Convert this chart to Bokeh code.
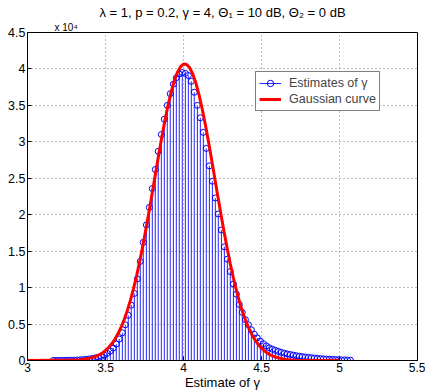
from bokeh.plotting import figure
from bokeh.models import (ColumnDataSource, Range1d, FixedTicker, Title,
                          Legend, LegendItem)
from bokeh.embed import file_html
from bokeh.resources import INLINE

# ---- data (counts in units of 1e4) ----
gamma_bins = [3.165, 3.184, 3.203, 3.223, 3.242, 3.261, 3.280, 3.300, 3.319, 3.338,
              3.357, 3.377, 3.396, 3.415, 3.434, 3.454, 3.473, 3.492, 3.511, 3.531,
              3.550, 3.569, 3.588, 3.608, 3.627, 3.646, 3.665, 3.685, 3.704, 3.723,
              3.742, 3.762, 3.781, 3.800, 3.819, 3.838, 3.858, 3.877, 3.896, 3.915,
              3.935, 3.954, 3.973, 3.992, 4.012, 4.031, 4.050, 4.069, 4.089, 4.108,
              4.127, 4.146, 4.166, 4.185, 4.204, 4.223, 4.243, 4.262, 4.281, 4.300,
              4.320, 4.339, 4.358, 4.377, 4.397, 4.416, 4.435, 4.454, 4.473, 4.493,
              4.512, 4.531, 4.550, 4.570, 4.589, 4.608, 4.627, 4.647, 4.666, 4.685,
              4.704, 4.724, 4.743, 4.762, 4.781, 4.801, 4.820, 4.839, 4.858, 4.878,
              4.897, 4.916, 4.935, 4.955, 4.974, 4.993, 5.012, 5.032, 5.051, 5.070]
estimate_counts = [0.001, 0.001, 0.001, 0.002, 0.002, 0.003, 0.004, 0.005, 0.007, 0.009,
                   0.012, 0.016, 0.021, 0.027, 0.035, 0.045, 0.058, 0.075, 0.098, 0.130,
                   0.170, 0.225, 0.295, 0.38, 0.49, 0.62, 0.76, 0.92, 1.12, 1.36,
                   1.62, 1.86, 2.10, 2.36, 2.62, 2.87, 3.10, 3.31, 3.50, 3.66,
                   3.79, 3.88, 3.93, 3.95, 3.94, 3.91, 3.83, 3.68, 3.50, 3.33,
                   3.13, 2.91, 2.67, 2.46, 2.23, 2.01, 1.79, 1.56, 1.39, 1.22,
                   1.05, 0.91, 0.77, 0.66, 0.56, 0.49, 0.42, 0.36, 0.31, 0.265,
                   0.23, 0.20, 0.175, 0.155, 0.14, 0.125, 0.112, 0.10, 0.09, 0.082,
                   0.074, 0.066, 0.059, 0.053, 0.048, 0.043, 0.038, 0.034, 0.030, 0.026,
                   0.023, 0.020, 0.017, 0.015, 0.013, 0.011, 0.009, 0.008, 0.006, 0.005]

gauss_x = [3.00, 3.30, 3.32, 3.34, 3.36, 3.38, 3.40, 3.42, 3.44, 3.46, 3.48, 3.50,
           3.52, 3.54, 3.56, 3.58, 3.60, 3.62, 3.64, 3.66, 3.68, 3.70, 3.72, 3.74,
           3.76, 3.78, 3.80, 3.82, 3.84, 3.86, 3.88, 3.90, 3.92, 3.94, 3.96, 3.98,
           4.00, 4.02, 4.04, 4.06, 4.08, 4.10, 4.12, 4.14, 4.16, 4.18, 4.20, 4.22,
           4.24, 4.26, 4.28, 4.30, 4.32, 4.34, 4.36, 4.38, 4.40, 4.42, 4.44, 4.46,
           4.48, 4.50, 4.52, 4.54, 4.56, 4.58, 4.60, 4.62, 4.64, 4.66, 4.68, 4.70,
           4.72, 5.00]
gauss_y = [0.000, 0.006, 0.008, 0.012, 0.016, 0.023, 0.032, 0.043, 0.059, 0.078, 0.104, 0.137,
           0.178, 0.229, 0.291, 0.366, 0.456, 0.562, 0.686, 0.828, 0.989, 1.169, 1.368, 1.583,
           1.813, 2.055, 2.304, 2.557, 2.808, 3.052, 3.281, 3.492, 3.676, 3.830, 3.949, 4.028,
           4.067, 4.062, 4.015, 3.928, 3.802, 3.641, 3.451, 3.237, 3.004, 2.759, 2.507, 2.254,
           2.006, 1.766, 1.538, 1.326, 1.131, 0.955, 0.798, 0.660, 0.540, 0.437, 0.350, 0.277,
           0.217, 0.169, 0.130, 0.098, 0.074, 0.055, 0.041, 0.030, 0.021, 0.015, 0.011, 0.008,
           0.005, 0.000]

x_ticks = [3, 3.5, 4, 4.5, 5, 5.5]
x_tick_labels = ["3", "3.5", "4", "4.5", "5", "5.5"]
y_ticks = [0, 0.5, 1, 1.5, 2, 2.5, 3, 3.5, 4, 4.5]
y_tick_labels = ["0", "0.5", "1", "1.5", "2", "2.5", "3", "3.5", "4", "4.5"]

FONT = "Liberation Sans"

p = figure(width=425, height=392, output_backend="svg", toolbar_location=None,
           x_range=Range1d(3, 5.5), y_range=Range1d(0, 4.5),
           min_border_left=27, min_border_right=8, min_border_top=32, min_border_bottom=30)
p.background_fill_color = "white"
p.border_fill_color = "white"
p.outline_line_color = "black"
p.outline_line_width = 1

src = ColumnDataSource(data=dict(x=gamma_bins, y=estimate_counts, y0=[0] * len(gamma_bins)))
seg = p.segment(x0="x", y0="y0", x1="x", y1="y", source=src, line_color="#0000ff",
                line_width=1, line_alpha=0.85)
circ = p.scatter(x="x", y="y", source=src, marker="circle", size=6, fill_color=None,
                 line_color="#0000ff", line_width=1)
red = p.line(gauss_x, gauss_y, line_color="#ff0000", line_width=3)

for ax in (p.xaxis[0], p.yaxis[0]):
    ax.major_tick_in = 4
    ax.major_tick_out = 0
    ax.minor_tick_line_color = None
    ax.axis_line_color = "black"
    ax.major_tick_line_color = "black"
    ax.major_label_text_font = FONT
    ax.major_label_text_font_size = "12px"
    ax.major_label_text_color = "black"

p.xaxis[0].ticker = FixedTicker(ticks=x_ticks)
p.xaxis[0].major_label_overrides = {t: l for t, l in zip(x_ticks, x_tick_labels)}
p.xaxis[0].major_label_standoff = 2
p.xaxis[0].axis_label = "Estimate of γ"
p.xaxis[0].axis_label_text_font = FONT
p.xaxis[0].axis_label_text_font_style = "normal"
p.xaxis[0].axis_label_text_font_size = "13px"
p.xaxis[0].axis_label_text_color = "black"
p.xaxis[0].axis_label_standoff = 0

p.yaxis[0].ticker = FixedTicker(ticks=y_ticks)
p.yaxis[0].major_label_overrides = {t: l for t, l in zip(y_ticks, y_tick_labels)}
p.yaxis[0].major_label_standoff = 2
p.yaxis[0].major_label_text_font_size = "12.5px"

p.xgrid.ticker = FixedTicker(ticks=x_ticks)
p.ygrid.ticker = FixedTicker(ticks=y_ticks)
for g in (p.xgrid[0], p.ygrid[0]):
    g.grid_line_color = "#7a7a7a"
    g.grid_line_dash = "1 3"
    g.grid_line_width = 1

legend = Legend(items=[LegendItem(label="Estimates of γ", renderers=[seg, circ]),
                       LegendItem(label="Gaussian curve", renderers=[red])],
                location=(228, 249), label_text_font=FONT, label_text_font_size="12.5px",
                border_line_color="black", border_line_width=1, background_fill_alpha=1,
                padding=3, spacing=0, margin=0, glyph_width=22, glyph_height=16,
                label_height=16, label_standoff=8)
p.add_layout(legend)

# main title (outer row)
p.title.text = "λ = 1, p = 0.2, γ = 4, Θ\u2081 = 10 dB, Θ\u2082 = 0 dB"
p.title.align = "center"
p.title.text_font = FONT
p.title.text_font_size = "13px"
p.title.text_font_style = "normal"
p.title.text_color = "black"
p.title.standoff = 0

# scale-factor note just above the frame
scale_note = Title(text="x 10\u2074", align="left", offset=27, text_font=FONT,
                   text_font_size="10px", text_font_style="normal", text_color="black",
                   standoff=0)
p.add_layout(scale_note, "above")

open("out.html", "w").write(file_html(p, INLINE))
